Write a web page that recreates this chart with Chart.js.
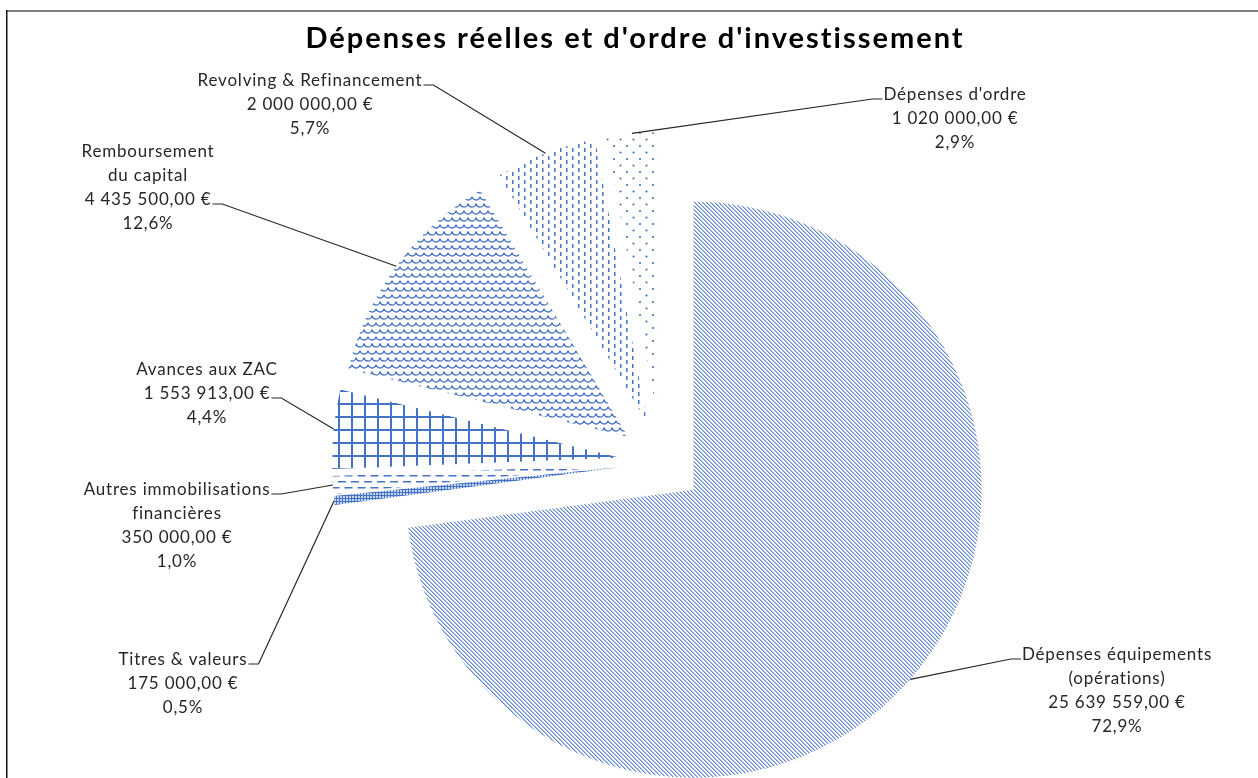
<!DOCTYPE html>
<html>
<head>
<meta charset="utf-8">
<title>Dépenses réelles et d'ordre d'investissement</title>
<script src="https://cdn.jsdelivr.net/npm/chart.js@4.4.1/dist/chart.umd.min.js"></script>
<style>
  html, body { margin: 0; padding: 0; background: #fff; }
  canvas { display: block; }
</style>
</head>
<body>
<canvas id="chart" width="1258" height="778"></canvas>
<script>
const chartTitle = "Dépenses réelles et d'ordre d'investissement";

// slices, clockwise from 12 o'clock
const categories = [
  "Dépenses équipements\n(opérations)",
  "Titres & valeurs",
  "Autres immobilisations\nfinancières",
  "Avances aux ZAC",
  "Remboursement\ndu capital",
  "Revolving & Refinancement",
  "Dépenses d'ordre",
];
const amounts = [25639559, 175000, 350000, 1553913, 4435500, 2000000, 1020000];

// where each data label sits (centre x, first baseline y), which side the
// leader leaves from and on which text line it is attached
const labelLayout = [
  { x: 1117, y: 660, side: "left", attach: 0 },
  { x: 183, y: 665, side: "right", attach: 0 },
  { x: 177, y: 495, side: "right", attach: 0 },
  { x: 207, y: 375, side: "right", attach: 1 },
  { x: 148, y: 157, side: "right", attach: 2 },
  { x: 310, y: 86, side: "right", attach: 0 },
  { x: 955, y: 100, side: "left", attach: 0 },
];

const BLUE = "#4472C4";
const PIE_RADIUS = 288;
const EXPLODE = 42; // px every slice is pulled out
const LINE_H = 24;
const total = amounts.reduce((a, b) => a + b, 0);

function fmtEuro(v) {
  const parts = v.toFixed(2).split(".");
  return parts[0].replace(/\B(?=(\d{3})+(?!\d))/g, " ") + "," + parts[1] + " €";
}

function fmtPct(f) {
  return (f * 100).toFixed(1).replace(".", ",") + "%";
}

function makePattern(w, h, draw) {
  const c = document.createElement("canvas");
  c.width = w;
  c.height = h;
  const g = c.getContext("2d");
  g.fillStyle = BLUE;
  g.strokeStyle = BLUE;
  draw(g);
  return g.createPattern(c, "repeat");
}

const patterns = [
  // narrow downward diagonal
  makePattern(4, 4, (g) => {
    g.globalAlpha = 0.85;
    for (let i = 0; i < 4; i++) g.fillRect(i, i, 1, 1);
    g.globalAlpha = 0.4;
    for (let i = 0; i < 4; i++) g.fillRect((i + 1) % 4, i, 1, 1);
  }),
  // small dense mesh
  makePattern(3, 3, (g) => {
    g.fillRect(0, 0, 3, 1);
    g.fillRect(0, 0, 1, 3);
    g.globalAlpha = 0.3;
    g.fillRect(1, 1, 2, 2);
  }),
  // dashed horizontal
  makePattern(13, 12, (g) => {
    g.fillRect(0, 1, 8, 1.5);
    g.fillRect(6.5, 7, 6.5, 1.5);
    g.fillRect(0, 7, 1.5, 1.5);
  }),
  // large grid
  makePattern(13, 13, (g) => {
    g.fillRect(0, 0, 2, 13);
    g.fillRect(0, 0, 13, 2);
  }),
  // scales
  makePattern(8, 14, (g) => {
    g.lineWidth = 1.3;
    [[4, 0], [0, 7], [8, 7], [4, 14]].forEach(([cx, cy]) => {
      g.beginPath();
      g.arc(cx, cy, 4, 0.05 * Math.PI, 0.95 * Math.PI);
      g.stroke();
    });
  }),
  // dashed vertical
  makePattern(12, 8, (g) => {
    g.fillRect(2, 0, 1.5, 4);
    g.fillRect(8, 4, 1.5, 4);
  }),
  // dotted
  makePattern(13, 13, (g) => {
    g.beginPath();
    g.arc(3, 3, 1.1, 0, Math.PI * 2);
    g.arc(9.5, 9.5, 1.1, 0, Math.PI * 2);
    g.fill();
  }),
];

const pieAnnotations = {
  id: "pieAnnotations",
  // explode every slice by moving its own centre outwards along its bisector
  // (Chart.js' offset option also narrows thin slices away to nothing)
  afterDatasetUpdate(chart, args) {
    args.meta.data.forEach((arc) => {
      const mid = (arc.startAngle + arc.endAngle) / 2;
      arc.x += Math.cos(mid) * EXPLODE;
      arc.y += Math.sin(mid) * EXPLODE;
    });
  },
  beforeDraw(chart) {
    const ctx = chart.ctx;
    ctx.save();
    // chart frame
    ctx.fillStyle = "#808080";
    ctx.fillRect(7, 10, chart.width - 7, 2);
    ctx.fillStyle = "#111";
    ctx.fillRect(6, 10, 1.5, chart.height - 10);
    // title
    ctx.fillStyle = "#000";
    ctx.font = "bold 29px Lato, 'Open Sans', sans-serif";
    ctx.letterSpacing = "2px";
    ctx.textAlign = "center";
    ctx.textBaseline = "alphabetic";
    ctx.fillText(chartTitle, 635, 48);
    ctx.restore();
  },
  afterDatasetsDraw(chart) {
    const ctx = chart.ctx;
    const arcs = chart.getDatasetMeta(0).data;
    ctx.save();
    ctx.font = "17px Lato, 'Open Sans', sans-serif";
    ctx.letterSpacing = "0.8px";
    ctx.textAlign = "center";
    ctx.textBaseline = "alphabetic";
    ctx.strokeStyle = "#262626";
    ctx.lineWidth = 1.2;
    arcs.forEach((arc, i) => {
      const lay = labelLayout[i];
      const lines = categories[i].split("\n");
      lines.push(fmtEuro(amounts[i]), fmtPct(amounts[i] / total));
      ctx.fillStyle = "#262626";
      lines.forEach((ln, k) => ctx.fillText(ln, lay.x, lay.y + k * LINE_H));

      // leader line to the middle of the slice's outer edge
      const p = arc.getProps(["x", "y", "startAngle", "endAngle", "outerRadius"]);
      const mid = (p.startAngle + p.endAngle) / 2;
      const ex = p.x + Math.cos(mid) * p.outerRadius;
      const ey = p.y + Math.sin(mid) * p.outerRadius;
      const w = ctx.measureText(lines[lay.attach]).width;
      const ty = lay.y + lay.attach * LINE_H - 1;
      const dir = lay.side === "right" ? 1 : -1;
      const tx = lay.x + dir * (w / 2 + 1);
      ctx.beginPath();
      ctx.moveTo(tx, ty);
      ctx.lineTo(tx + dir * 10, ty);
      ctx.lineTo(ex, ey);
      ctx.stroke();
    });
    ctx.restore();
  },
};

const ctx = document.getElementById("chart").getContext("2d");
new Chart(ctx, {
  type: "pie",
  data: {
    labels: categories,
    datasets: [
      {
        data: amounts,
        backgroundColor: patterns,
        borderWidth: 0,
        clip: false,
      },
    ],
  },
  options: {
    responsive: false,
    animation: false,
    radius: PIE_RADIUS,
    layout: { padding: { left: 66, top: 146, right: 0, bottom: 0 } },
    plugins: {
      legend: { display: false },
      tooltip: { enabled: false },
      title: { display: false },
    },
  },
  plugins: [pieAnnotations],
});
</script>
</body>
</html>
